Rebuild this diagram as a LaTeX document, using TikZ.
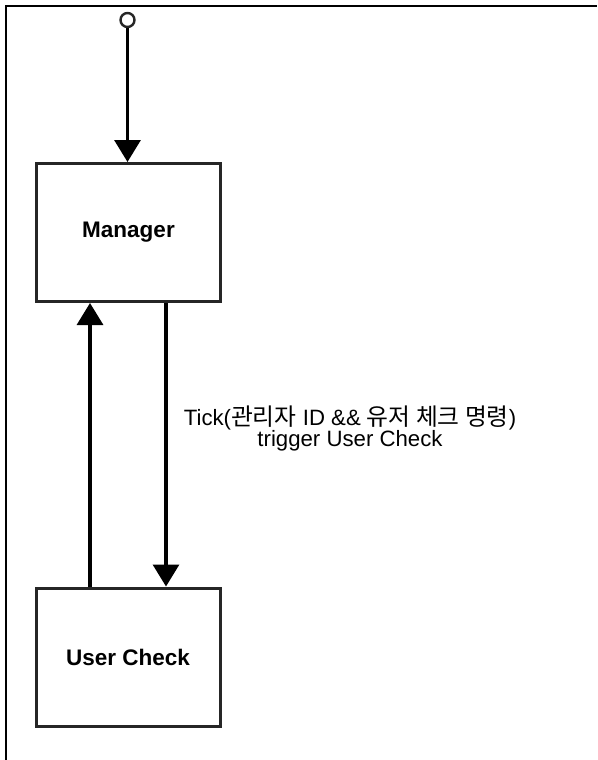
\documentclass[tikz,border=0pt]{standalone}
\usepackage{fontspec}
\setmainfont{Liberation Sans}
\newfontfamily\kr[Scale=1.07]{Noto Sans CJK KR}
\usetikzlibrary{arrows.meta}
\begin{document}
\begin{tikzpicture}[x=1pt,y=-1pt,
  box/.style={draw=black!85,line width=3pt,fill=white,minimum width=184pt,minimum height=138pt,inner sep=0pt,font=\fontsize{22.5}{24}\selectfont\bfseries},
  flow/.style={draw=black,line width=3.2pt,-{Triangle[length=22pt,width=26pt]}},
  lbl/.style={align=center,font=\fontsize{22.2}{21}\selectfont,inner sep=0pt}]
\useasboundingbox (0,0) rectangle (597,760);
\draw[line width=2.2pt] (6,760) -- (6,6) -- (597,6);
\node[draw=black!85,line width=2.4pt,circle,minimum size=14pt,inner sep=0pt,fill=white] (start) at (127.5,20) {};
\node[box] (manager) at (128.5,232.5) {Manager};
\node[box] (user) at (128,657) {User Check};
\coordinate (xa) at (90,0);
\coordinate (xb) at (166,0);
\draw[flow] (start) -- (manager.north -| start);
\draw[flow] (user.north -| xa) -- (manager.south -| xa);
\draw[flow] (manager.south -| xb) -- (user.north -| xb);
\node[lbl] (label) at (350,428) {Tick({\kr 관리자} ID \&\& {\kr 유저 체크 명령})\\trigger User Check};
\end{tikzpicture}
\end{document}
